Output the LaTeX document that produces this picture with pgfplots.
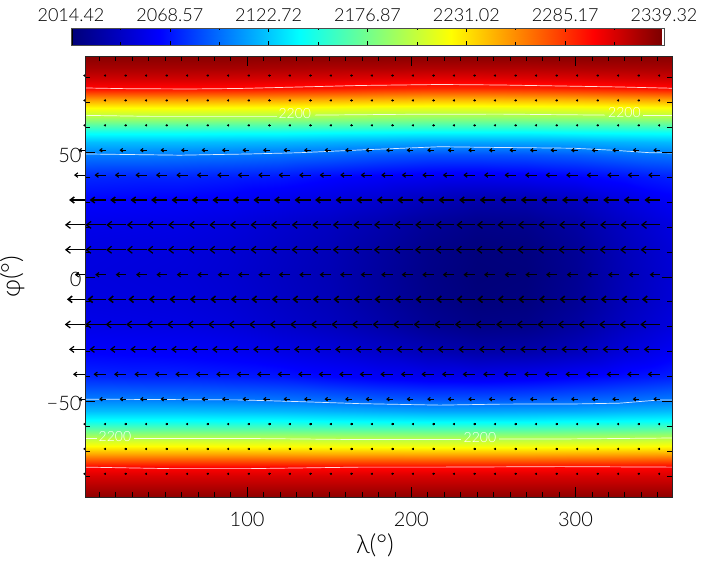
\documentclass[border=0pt]{standalone}
\usepackage{fontspec}
\setmainfont{Lato Light}
\usepackage{pgfplots}
\usepackage{pgfplotstable}
\pgfplotsset{compat=1.18}
\usetikzlibrary{arrows.meta}

\pgfplotsset{
  colormap={idljet}{rgb255(0pt)=(0,0,120); rgb255(148pt)=(0,0,255); rgb255(385pt)=(0,255,255);
    rgb255(640pt)=(255,255,0); rgb255(882pt)=(255,0,0); rgb255(1000pt)=(120,0,0)},
}

% zonal wind, length of the arrows in degrees of longitude, one column per latitude row
\pgfplotstableread{
x a80 a70 a60 a50 a40 a30 a20 a10 a0 b10 b20 b30 b40 b50 b60 b70 b80
1.25 -1.1 -1.1 -1.1 -3.9 -6.7 -9.7 -12.2 -12.2 -6.2 -11.0 -12.3 -9.7 -7.3 -3.9 -1.1 -1.1 -1.1
13.75 -1.1 -1.1 -1.1 -3.9 -6.7 -9.7 -12.1 -12.2 -6.3 -11.0 -12.3 -9.8 -7.3 -3.9 -1.1 -1.1 -1.1
26.25 -1.1 -1.1 -1.1 -3.9 -6.8 -9.7 -12.0 -12.1 -6.3 -11.0 -12.4 -9.8 -7.3 -3.9 -1.1 -1.1 -1.1
38.75 -1.1 -1.1 -1.1 -4.0 -6.8 -9.8 -12.0 -12.0 -6.4 -11.1 -12.4 -9.9 -7.4 -4.0 -1.1 -1.1 -1.1
51.25 -1.1 -1.1 -1.1 -4.0 -6.8 -9.8 -11.9 -12.0 -6.5 -11.1 -12.4 -9.9 -7.4 -4.0 -1.1 -1.1 -1.1
63.75 -1.1 -1.1 -1.1 -4.0 -6.9 -9.8 -11.9 -11.9 -6.6 -11.1 -12.5 -10.0 -7.5 -4.0 -1.1 -1.1 -1.1
76.25 -1.1 -1.1 -1.1 -4.0 -6.9 -9.9 -11.8 -11.9 -6.6 -11.2 -12.5 -10.0 -7.5 -4.0 -1.1 -1.1 -1.1
88.75 -1.1 -1.1 -1.1 -4.1 -7.0 -9.9 -11.8 -11.8 -6.7 -11.2 -12.5 -10.1 -7.6 -4.1 -1.1 -1.1 -1.1
101.25 -1.1 -1.1 -1.1 -4.1 -7.0 -9.9 -11.7 -11.8 -6.8 -11.2 -12.6 -10.1 -7.6 -4.1 -1.1 -1.1 -1.1
113.75 -1.1 -1.1 -1.1 -4.1 -7.0 -9.9 -11.7 -11.7 -6.9 -11.2 -12.6 -10.1 -7.7 -4.1 -1.1 -1.1 -1.1
126.25 -1.1 -1.1 -1.1 -4.1 -7.1 -9.9 -11.7 -11.7 -7.0 -11.2 -12.6 -10.2 -7.7 -4.1 -1.1 -1.1 -1.1
138.75 -1.1 -1.1 -1.1 -4.1 -7.1 -9.9 -11.6 -11.7 -7.0 -11.2 -12.6 -10.2 -7.7 -4.1 -1.1 -1.1 -1.1
151.25 -1.1 -1.1 -1.1 -4.1 -7.1 -9.9 -11.6 -11.6 -7.1 -11.2 -12.5 -10.2 -7.7 -4.1 -1.1 -1.1 -1.1
163.75 -1.1 -1.1 -1.1 -4.1 -7.1 -9.9 -11.6 -11.6 -7.1 -11.2 -12.5 -10.2 -7.7 -4.1 -1.1 -1.1 -1.1
176.25 -1.1 -1.1 -1.1 -4.1 -7.1 -9.8 -11.6 -11.6 -7.1 -11.2 -12.5 -10.2 -7.7 -4.1 -1.1 -1.1 -1.1
188.75 -1.1 -1.1 -1.1 -4.1 -7.1 -9.8 -11.5 -11.6 -7.1 -11.2 -12.4 -10.2 -7.6 -4.1 -1.1 -1.1 -1.1
201.25 -1.1 -1.1 -1.1 -4.1 -7.1 -9.8 -11.5 -11.6 -7.1 -11.2 -12.4 -10.2 -7.6 -4.1 -1.1 -1.1 -1.1
213.75 -1.1 -1.1 -1.1 -4.1 -7.1 -9.7 -11.4 -11.6 -7.1 -11.2 -12.3 -10.1 -7.6 -4.1 -1.1 -1.1 -1.1
226.25 -1.1 -1.1 -1.1 -4.1 -7.1 -9.7 -11.4 -11.6 -7.1 -11.2 -12.3 -10.1 -7.6 -4.1 -1.1 -1.1 -1.1
238.75 -1.1 -1.1 -1.1 -4.1 -7.1 -9.7 -11.3 -11.6 -7.0 -11.2 -12.2 -10.1 -7.5 -4.1 -1.1 -1.1 -1.1
251.25 -1.1 -1.1 -1.1 -4.0 -7.0 -9.6 -11.3 -11.6 -7.0 -11.1 -12.2 -10.0 -7.5 -4.1 -1.1 -1.1 -1.1
263.75 -1.1 -1.1 -1.1 -4.0 -7.0 -9.6 -11.3 -11.6 -6.9 -11.1 -12.1 -10.0 -7.5 -4.0 -1.1 -1.1 -1.1
276.25 -1.1 -1.1 -1.1 -4.0 -7.0 -9.6 -11.3 -11.6 -6.8 -11.1 -12.1 -10.0 -7.5 -4.0 -1.1 -1.1 -1.1
288.75 -1.1 -1.1 -1.1 -4.0 -7.0 -9.5 -11.3 -11.6 -6.7 -11.0 -12.0 -9.9 -7.4 -4.0 -1.1 -1.1 -1.1
301.25 -1.1 -1.1 -1.1 -4.0 -7.0 -9.5 -11.3 -11.6 -6.6 -11.0 -12.0 -9.9 -7.4 -4.0 -1.1 -1.1 -1.1
313.75 -1.1 -1.1 -1.1 -3.9 -7.0 -9.5 -11.3 -11.6 -6.5 -10.9 -11.9 -9.8 -7.4 -3.9 -1.1 -1.1 -1.1
326.25 -1.1 -1.1 -1.1 -3.9 -7.0 -9.4 -11.3 -11.6 -6.4 -10.9 -11.9 -9.8 -7.3 -3.9 -1.1 -1.1 -1.1
338.75 -1.1 -1.1 -1.1 -3.9 -7.0 -9.4 -11.3 -11.6 -6.3 -10.8 -11.8 -9.8 -7.3 -3.9 -1.1 -1.1 -1.1
351.25 -1.1 -1.1 -1.1 -3.9 -7.0 -9.3 -11.4 -11.6 -6.1 -10.8 -11.8 -9.7 -7.3 -3.9 -1.1 -1.1 -1.1
}\windtable

% one row of arrows: latitude, column, line width, head length, head width
\newcommand{\windrow}[5]{%
  \addplot[black, line width=#3pt, no marks,
    quiver={u=\thisrow{#2}, v=0,
      every arrow/.append style={-{Straight Barb[length=#4pt,width=#5pt]}}}]
    table[x=x, y expr=#1] {\windtable};
}

\begin{document}
\begin{tikzpicture}
\path[use as bounding box] (0,0) rectangle (707pt,565pt);

\begin{axis}[
    at={(85pt,68pt)}, anchor=south west,
    scale only axis, width=587pt, height=440.5pt,
    xmin=1.25, xmax=358.75, ymin=-88.4, ymax=88.55,
    clip=false,
    axis on top,
    colormap name=idljet,
    point meta min=2014.42, point meta max=2339.32,
    tick align=inside,
    major tick length=10pt, minor tick length=5pt,
    tick style={black, line width=0.7pt},
    axis line style={black!85, line width=0.9pt},
    xtick={100,200,300}, xticklabels={100,200,300},
    ytick={-50,0,50}, yticklabels={−50,0,50},
    minor xtick={10,20,...,350},
    minor ytick={-80,-70,...,80},
    every tick label/.append style={font=\fontsize{20}{24}\selectfont, text=black},
    xticklabel style={yshift=-12pt},
    yticklabel style={yshift=-2.5pt},
    xlabel={λ(°)}, ylabel={φ(°)},
    xlabel style={at={(axis description cs:0.494,-0.109)}, anchor=center,
      font=\fontsize{26}{30}\selectfont, text=black},
    ylabel style={at={(axis description cs:-0.124,0.5)}, anchor=center, rotate=0,
      font=\fontsize{26}{30}\selectfont, text=black},
  ]
  \addplot[surf, shader=interp, mesh/rows=31, mesh/ordering=x varies,
      point meta=\thisrow{T}]
    table[x=lon, y=lat, row sep=\\] {
lon lat T\\
1.25 -88.4 2333\\30 -88.4 2333\\60 -88.4 2333\\90 -88.4 2333\\120 -88.4 2333\\150 -88.4 2333\\180 -88.4 2333\\210 -88.4 2333\\240 -88.4 2333\\270 -88.4 2333\\300 -88.4 2333\\330 -88.4 2333\\358.75 -88.4 2333\\
1.25 -84 2322\\30 -84 2322\\60 -84 2322\\90 -84 2322\\120 -84 2322\\150 -84 2322\\180 -84 2322\\210 -84 2322\\240 -84 2322\\270 -84 2322\\300 -84 2322\\330 -84 2322\\358.75 -84 2322\\
1.25 -80 2312\\30 -80 2312\\60 -80 2312\\90 -80 2312\\120 -80 2312\\150 -80 2312\\180 -80 2312\\210 -80 2312\\240 -80 2312\\270 -80 2312\\300 -80 2312\\330 -80 2312\\358.75 -80 2312\\
1.25 -76.5 2300\\30 -76.5 2300\\60 -76.5 2300\\90 -76.5 2300\\120 -76.5 2300\\150 -76.5 2299\\180 -76.5 2299\\210 -76.5 2299\\240 -76.5 2299\\270 -76.5 2299\\300 -76.5 2300\\330 -76.5 2300\\358.75 -76.5 2302\\
1.25 -71 2250\\30 -71 2250\\60 -71 2250\\90 -71 2250\\120 -71 2249\\150 -71 2248\\180 -71 2248\\210 -71 2247\\240 -71 2247\\270 -71 2247\\300 -71 2248\\330 -71 2249\\358.75 -71 2250\\
1.25 -68 2222\\30 -68 2222\\60 -68 2222\\90 -68 2221\\120 -68 2221\\150 -68 2220\\180 -68 2219\\210 -68 2218\\240 -68 2218\\270 -68 2218\\300 -68 2219\\330 -68 2220\\358.75 -68 2222\\
1.25 -64.7 2200\\30 -64.7 2200\\60 -64.7 2200\\90 -64.7 2199\\120 -64.7 2199\\150 -64.7 2198\\180 -64.7 2197\\210 -64.7 2196\\240 -64.7 2196\\270 -64.7 2196\\300 -64.7 2197\\330 -64.7 2198\\358.75 -64.7 2200\\
1.25 -61 2168\\30 -61 2168\\60 -61 2168\\90 -61 2167\\120 -61 2167\\150 -61 2166\\180 -61 2165\\210 -61 2164\\240 -61 2164\\270 -61 2164\\300 -61 2165\\330 -61 2166\\358.75 -61 2168\\
1.25 -58 2142\\30 -58 2142\\60 -58 2142\\90 -58 2141\\120 -58 2141\\150 -58 2139\\180 -58 2138\\210 -58 2137\\240 -58 2137\\270 -58 2137\\300 -58 2139\\330 -58 2140\\358.75 -58 2141\\
1.25 -54 2120\\30 -54 2120\\60 -54 2120\\90 -54 2119\\120 -54 2118\\150 -54 2116\\180 -54 2114\\210 -54 2112\\240 -54 2112\\270 -54 2113\\300 -54 2114\\330 -54 2117\\358.75 -54 2119\\
1.25 -49 2100\\30 -49 2100\\60 -49 2099\\90 -49 2098\\120 -49 2097\\150 -49 2094\\180 -49 2090\\210 -49 2088\\240 -49 2088\\270 -49 2089\\300 -49 2092\\330 -49 2095\\358.75 -49 2099\\
1.25 -40 2074\\30 -40 2073\\60 -40 2073\\90 -40 2071\\120 -40 2069\\150 -40 2064\\180 -40 2060\\210 -40 2057\\240 -40 2056\\270 -40 2058\\300 -40 2062\\330 -40 2067\\358.75 -40 2072\\
1.25 -30 2062\\30 -30 2061\\60 -30 2060\\90 -30 2058\\120 -30 2054\\150 -30 2050\\180 -30 2044\\210 -30 2037\\240 -30 2032\\270 -30 2033\\300 -30 2039\\330 -30 2050\\358.75 -30 2059\\
1.25 -20 2055\\30 -20 2054\\60 -20 2053\\90 -20 2050\\120 -20 2045\\150 -20 2040\\180 -20 2033\\210 -20 2025\\240 -20 2020\\270 -20 2021\\300 -20 2029\\330 -20 2041\\358.75 -20 2051\\
1.25 -10 2052\\30 -10 2051\\60 -10 2050\\90 -10 2047\\120 -10 2042\\150 -10 2037\\180 -10 2029\\210 -10 2021\\240 -10 2016\\270 -10 2017\\300 -10 2025\\330 -10 2038\\358.75 -10 2048\\
1.25 0 2051\\30 0 2050\\60 0 2049\\90 0 2046\\120 0 2041\\150 0 2036\\180 0 2028\\210 0 2020\\240 0 2015\\270 0 2016\\300 0 2024\\330 0 2037\\358.75 0 2047\\
1.25 10 2052\\30 10 2051\\60 10 2050\\90 10 2047\\120 10 2042\\150 10 2037\\180 10 2029\\210 10 2021\\240 10 2016\\270 10 2017\\300 10 2025\\330 10 2038\\358.75 10 2048\\
1.25 20 2055\\30 20 2054\\60 20 2053\\90 20 2050\\120 20 2045\\150 20 2040\\180 20 2033\\210 20 2025\\240 20 2020\\270 20 2021\\300 20 2029\\330 20 2041\\358.75 20 2051\\
1.25 30 2062\\30 30 2061\\60 30 2060\\90 30 2058\\120 30 2054\\150 30 2050\\180 30 2044\\210 30 2037\\240 30 2032\\270 30 2033\\300 30 2039\\330 30 2050\\358.75 30 2059\\
1.25 40 2074\\30 40 2073\\60 40 2073\\90 40 2071\\120 40 2069\\150 40 2064\\180 40 2060\\210 40 2057\\240 40 2056\\270 40 2058\\300 40 2062\\330 40 2067\\358.75 40 2072\\
1.25 49 2100\\30 49 2100\\60 49 2099\\90 49 2098\\120 49 2096\\150 49 2093\\180 49 2089\\210 49 2086\\240 49 2086\\270 49 2087\\300 49 2090\\330 49 2095\\358.75 49 2098\\
1.25 54 2120\\30 54 2120\\60 54 2120\\90 54 2119\\120 54 2118\\150 54 2116\\180 54 2114\\210 54 2112\\240 54 2112\\270 54 2113\\300 54 2114\\330 54 2117\\358.75 54 2119\\
1.25 58 2142\\30 58 2142\\60 58 2142\\90 58 2141\\120 58 2141\\150 58 2139\\180 58 2138\\210 58 2137\\240 58 2137\\270 58 2137\\300 58 2139\\330 58 2140\\358.75 58 2141\\
1.25 61 2168\\30 61 2168\\60 61 2168\\90 61 2167\\120 61 2167\\150 61 2166\\180 61 2165\\210 61 2164\\240 61 2164\\270 61 2164\\300 61 2165\\330 61 2166\\358.75 61 2168\\
1.25 64.5 2200\\30 64.5 2200\\60 64.5 2200\\90 64.5 2199\\120 64.5 2198\\150 64.5 2196\\180 64.5 2194\\210 64.5 2193\\240 64.5 2193\\270 64.5 2194\\300 64.5 2195\\330 64.5 2197\\358.75 64.5 2199\\
1.25 68 2222\\30 68 2222\\60 68 2222\\90 68 2221\\120 68 2220\\150 68 2218\\180 68 2216\\210 68 2215\\240 68 2215\\270 68 2216\\300 68 2217\\330 68 2219\\358.75 68 2221\\
1.25 71 2250\\30 71 2250\\60 71 2250\\90 71 2249\\120 71 2248\\150 71 2246\\180 71 2244\\210 71 2242\\240 71 2242\\270 71 2243\\300 71 2244\\330 71 2247\\358.75 71 2249\\
1.25 76 2300\\30 76 2300\\60 76 2299\\90 76 2299\\120 76 2297\\150 76 2295\\180 76 2292\\210 76 2290\\240 76 2290\\270 76 2291\\300 76 2293\\330 76 2296\\358.75 76 2299\\
1.25 80 2315\\30 80 2315\\60 80 2315\\90 80 2314\\120 80 2313\\150 80 2312\\180 80 2310\\210 80 2309\\240 80 2309\\270 80 2310\\300 80 2311\\330 80 2313\\358.75 80 2315\\
1.25 84 2326\\30 84 2326\\60 84 2326\\90 84 2326\\120 84 2325\\150 84 2324\\180 84 2324\\210 84 2323\\240 84 2323\\270 84 2323\\300 84 2324\\330 84 2325\\358.75 84 2326\\
1.25 88.55 2335\\30 88.55 2335\\60 88.55 2335\\90 88.55 2335\\120 88.55 2335\\150 88.55 2335\\180 88.55 2335\\210 88.55 2335\\240 88.55 2335\\270 88.55 2335\\300 88.55 2335\\330 88.55 2335\\358.75 88.55 2335\\
};

  % contour lines, broken where the label sits
  \addplot[white, opacity=0.85, line width=0.7pt] coordinates {(1.25,75.9)(28.7,75.6)(65.2,75.5)(95.6,75.7)(132,76.3)(168.7,76.9)(217.4,77.3)(254,77.1)(290.5,76.7)(327,76.3)(358.75,75.8)};
  \addplot[white, opacity=0.85, line width=0.7pt] coordinates {(1.25,64.9)(40.8,64.5)(118.2,64.5)};
  \addplot[white, opacity=0.85, line width=0.7pt] coordinates {(141.3,65)(193,65.3)(254,65.4)(318,65)};
  \addplot[white, opacity=0.85, line width=0.7pt] coordinates {(341,64.8)(358.75,64.8)};
  \addplot[white, opacity=0.85, line width=0.7pt] coordinates {(1.25,49.4)(59,48.9)(101.7,49.4)(132.2,49.9)(168.7,51)(217.4,52.3)(254,52)(298.4,51.7)(322.8,50.9)(345.3,49.9)(358.75,49.8)};
  \addplot[white, opacity=0.85, line width=0.7pt] coordinates {(1.25,-49.1)(95.6,-49.4)(132.2,-50.1)(168.7,-50.9)(217.4,-51.5)(254,-51.1)(302.7,-51)(327,-50.7)(351.4,-49.4)(358.75,-49.4)};
  \addplot[white, opacity=0.85, line width=0.7pt] coordinates {(1.25,-64.9)(8.6,-64.9)};
  \addplot[white, opacity=0.85, line width=0.7pt] coordinates {(31.1,-64.9)(101.7,-64.9)(162.6,-65.3)(230.2,-65.3)};
  \addplot[white, opacity=0.85, line width=0.7pt] coordinates {(253.4,-65.1)(290.5,-65.1)(327,-64.9)(358.75,-64.7)};
  \addplot[white, opacity=0.85, line width=0.7pt] coordinates {(1.25,-76.4)(53,-77)(101.7,-77)(168.7,-76.4)(217.4,-76.4)(290.5,-76.2)(358.75,-76.4)};
  \node[text=white, font=\fontsize{14}{16}\selectfont] at (axis cs:129,65.7) {2200};
  \node[text=white, font=\fontsize{14}{16}\selectfont] at (axis cs:329.8,65.9) {2200};
  \node[text=white, font=\fontsize{14}{16}\selectfont] at (axis cs:19.5,-64.3) {2200};
  \node[text=white, font=\fontsize{14}{16}\selectfont] at (axis cs:241.8,-64.5) {2200};

  \windrow{80.9}{a80}{1.2}{1}{1.5}
  \windrow{70.9}{a70}{1.2}{1}{1.5}
  \windrow{60.9}{a60}{1.2}{1}{1.5}
  \windrow{50.9}{a50}{1.1}{2.2}{3.5}
  \windrow{40.9}{a40}{1.1}{3}{4.5}
  \windrow{30.9}{a30}{1.5}{4}{6}
  \windrow{20.9}{a20}{1.2}{4.5}{7}
  \windrow{10.9}{a10}{1.2}{4.5}{7}
  \windrow{0.9}{a0}{1.1}{3}{4.5}
  \windrow{-9.0}{b10}{1.6}{4}{6.5}
  \windrow{-19.1}{b20}{1.2}{4.5}{7}
  \windrow{-29.1}{b30}{1.2}{4}{6}
  \windrow{-39.1}{b40}{1.1}{3}{4.5}
  \windrow{-49.1}{b50}{1.1}{2.2}{3.5}
  \windrow{-59.1}{b60}{1.2}{1}{1.5}
  \windrow{-69.1}{b70}{1.2}{1}{1.5}
  \windrow{-79.1}{b80}{1.2}{1}{1.5}
\end{axis}

% colour bar
\begin{axis}[
    at={(71pt,520pt)}, anchor=south west,
    scale only axis, width=593pt, height=17pt,
    xmin=2014.42, xmax=2339.32, ymin=0, ymax=1,
    axis on top,
    colormap name=idljet,
    point meta min=2014.42, point meta max=2339.32,
    tick align=inside,
    major tick length=4pt, minor tick length=2.5pt,
    tick style={black, line width=0.6pt},
    axis line style={black!70, line width=0.9pt},
    ytick=\empty,
    xtick={2014.42,2068.57,2122.72,2176.87,2231.02,2285.17,2339.32},
    xticklabels={2014.42,2068.57,2122.72,2176.87,2231.02,2285.17,2339.32},
    minor xtick={2041.495,2095.645,2149.795,2203.945,2258.095,2312.245},
    xticklabel pos=upper,
    every tick label/.append style={font=\fontsize{18}{22}\selectfont, text=black},
    xticklabel style={yshift=3pt},
  ]
  \addplot[surf, shader=interp, mesh/rows=2, point meta=\thisrow{T}]
    table[x=T, y=y, row sep=\\] {
T y\\
2015.3 0\\2062.5 0\\2139.5 0\\2222.4 0\\2301 0\\2338.2 0\\
2015.3 1\\2062.5 1\\2139.5 1\\2222.4 1\\2301 1\\2338.2 1\\
};
  \addplot[fill=black, draw=none] coordinates {(2014.42,0)(2015.3,0)(2015.3,1)(2014.42,1)} -- cycle;
\end{axis}
\end{tikzpicture}
\end{document}
